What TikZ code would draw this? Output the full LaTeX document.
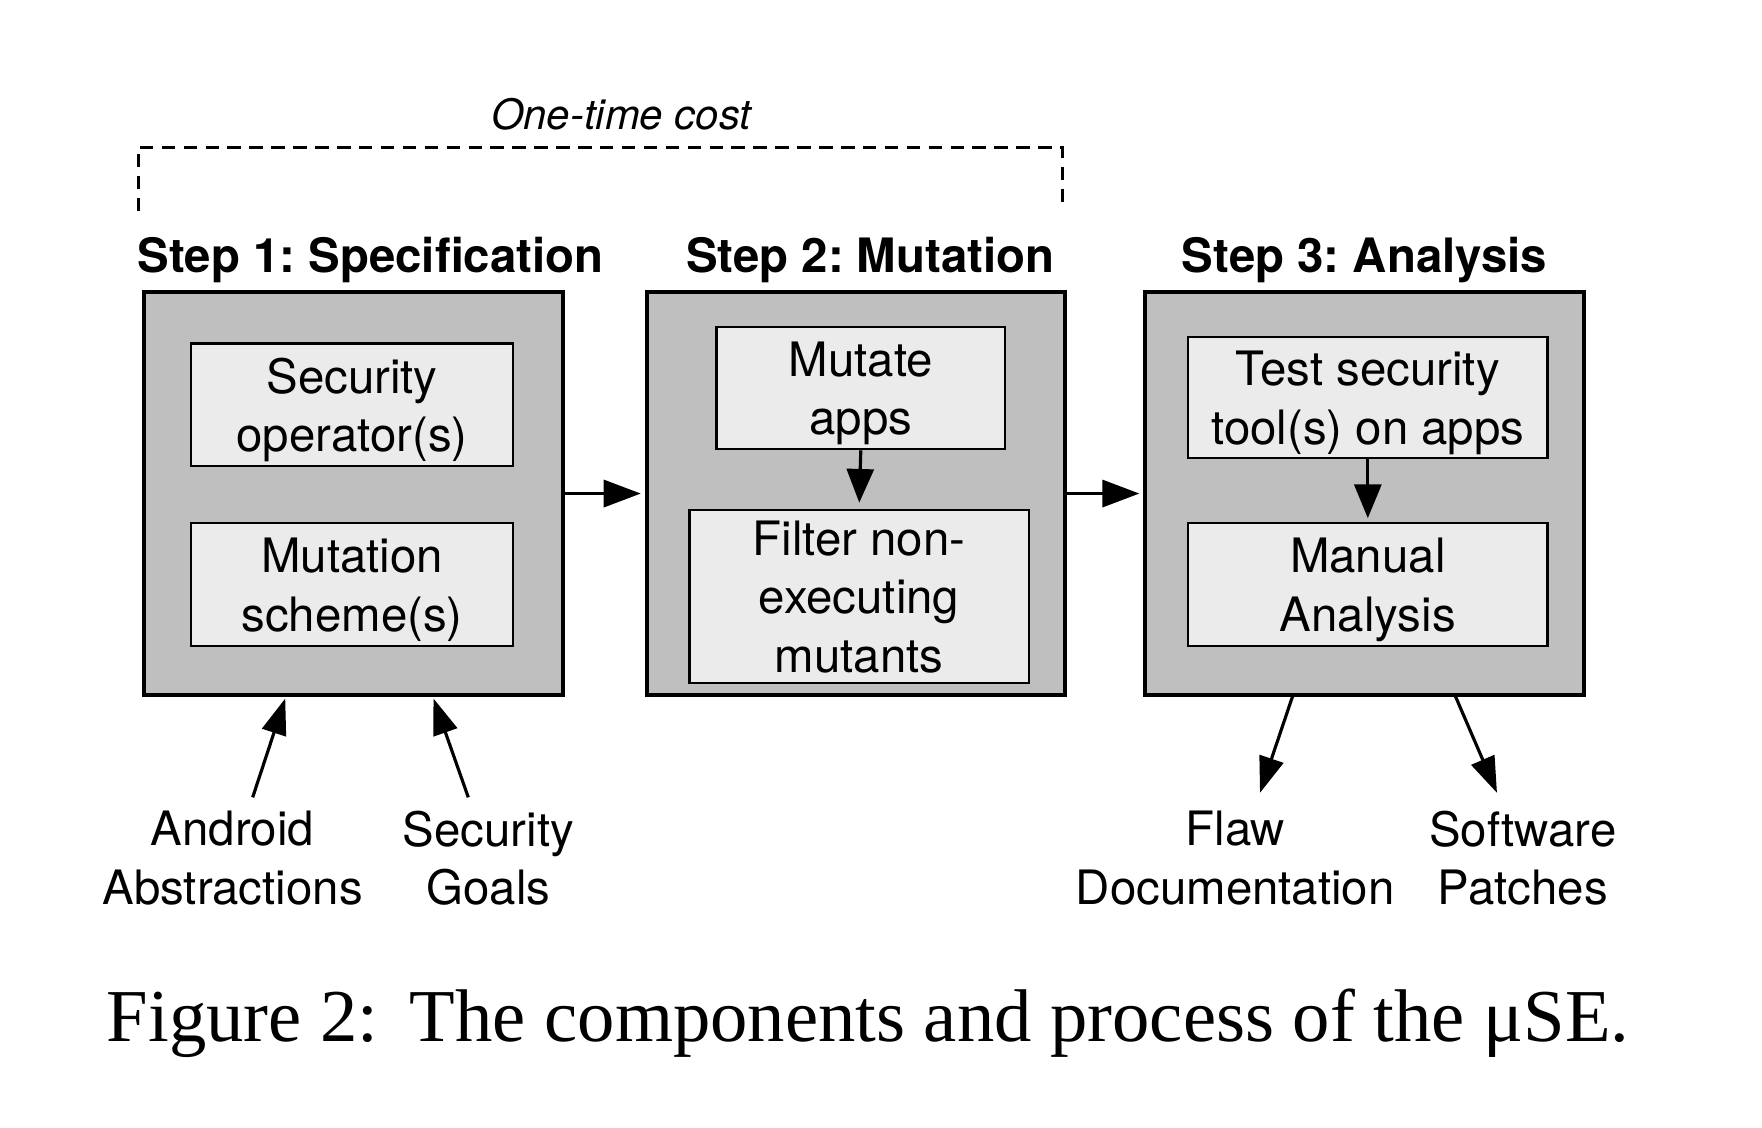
\documentclass[tikz,border=0pt]{standalone}
\usepackage{fontspec}
\setmainfont{TeX Gyre Heros}
\newfontfamily\capfont{Liberation Serif}
\usetikzlibrary{arrows.meta}
\definecolor{outerg}{gray}{0.75}
\definecolor{innerg}{gray}{0.92}
\frenchspacing
\begin{document}
\begin{tikzpicture}[x=0.01cm,y=-0.01cm,
 outerbox/.style={draw, line width=1pt, fill=outerg, inner sep=0pt},
 innerbox/.style={draw, line width=0.6pt, fill=innerg, inner sep=0pt, align=center, text depth=0pt, font=\fontsize{12}{14.8}\selectfont},
 steptitle/.style={font=\fontsize{12}{14.4}\selectfont\bfseries, anchor=base},
 lbl/.style={align=center, font=\fontsize{12}{14.8}\selectfont},
 bigarrow/.style={line width=0.9pt, -{Triangle[length=3.3mm,width=2.4mm]}},
 midarrow/.style={line width=0.8pt, -{Triangle[length=3mm,width=2.4mm]}},
 slantarrow/.style={line width=0.8pt, -{Triangle[length=3.2mm,width=2.2mm]}},
 bracket/.style={line width=0.8pt, dash pattern=on 1.2mm off 0.75mm},
]
\useasboundingbox (0,0) rectangle (1569,1004);

% one-time cost bracket
\coordinate (d1) at (123,188);
\coordinate (d2) at (123,131);
\coordinate (d3) at (946,131);
\coordinate (d4) at (946,183);
\draw[bracket] (d1) -- (d2) -- (d3) -- (d4);
\node[font=\fontsize{10.6}{12}\selectfont\itshape] (otc) at (553,102) {One-time cost};

% titles
\node[steptitle] (s1) at (330,243) {Step 1: Specification};
\node[steptitle] (s2) at (775,243) {Step 2: Mutation};
\node[steptitle] (s3) at (1215,243) {Step 3: Analysis};

% outer boxes
\node[outerbox, minimum width=3.73cm, minimum height=3.59cm] (b1) at (314.5,439.5) {};
\node[outerbox, minimum width=3.72cm, minimum height=3.59cm] (b2) at (762,439.5) {};
\node[outerbox, minimum width=3.90cm, minimum height=3.59cm] (b3) at (1215,439.5) {};

% inner boxes
\node[innerbox, minimum width=2.87cm, minimum height=1.09cm] (p1) at (313.5,360.5) {Security\\operator(s)};
\node[innerbox, minimum width=2.87cm, minimum height=1.09cm] (p2) at (313.5,520.5) {Mutation\\scheme(s)};
\node[innerbox, minimum width=2.57cm, minimum height=1.09cm] (m1) at (766.5,345.5) {Mutate\\apps};
\node[innerbox, minimum width=3.02cm, minimum height=1.54cm] (m2) at (765,531) {Filter non-\\executing\\mutants};
\node[innerbox, minimum width=3.20cm, minimum height=1.08cm] (t1) at (1218,354) {Test security\\tool(s) on apps};
\node[innerbox, minimum width=3.20cm, minimum height=1.09cm] (t2) at (1218,520.5) {Manual\\Analysis};

% arrows between steps
\draw[bigarrow, shorten >=1pt] (b1.east) -- (b2.west);
\draw[bigarrow, shorten >=1pt] (b2.east) -- (b3.west);
\draw[midarrow, shorten >=1.5pt] (m1.south) -- (m2.north);
\draw[midarrow, shorten >=1pt] (t1.south) -- (t2.north);

% inputs
\node[lbl] (aa) at (207,764) {Android\\Abstractions};
\node[lbl] (sg) at (435,764) {Security\\Goals};
\coordinate (i1s) at (225,710);
\coordinate (i1e) at (254,622);
\coordinate (i2s) at (417,710);
\coordinate (i2e) at (386,622);
\draw[slantarrow] (i1s) -- (i1e);
\draw[slantarrow] (i2s) -- (i2e);

% outputs
\node[lbl] (fd) at (1100,764) {Flaw\\Documentation};
\node[lbl] (sp) at (1356,764) {Software\\Patches};
\coordinate (o1s) at (1151,620);
\coordinate (o1e) at (1122,706);
\coordinate (o2s) at (1296,620);
\coordinate (o2e) at (1333,706);
\draw[slantarrow] (o1s) -- (o1e);
\draw[slantarrow] (o2s) -- (o2e);

% caption
\node[font=\capfont\fontsize{18.9}{22}\selectfont] (cap) at (773,911) {Figure 2:\hspace{0.42em}The components and process of the μSE.};
\end{tikzpicture}
\end{document}
